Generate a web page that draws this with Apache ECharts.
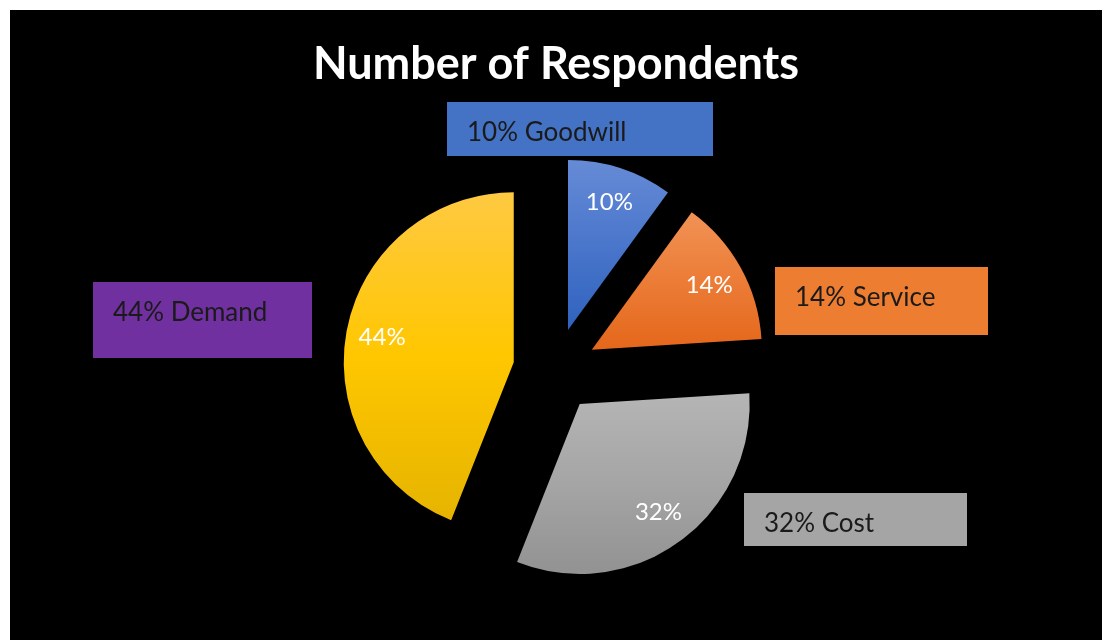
<!DOCTYPE html>
<html>
<head>
<meta charset="utf-8">
<title>Number of Respondents</title>
<script src="https://cdn.jsdelivr.net/npm/echarts@6/dist/echarts.min.js"></script>
<style>
  html, body { margin: 0; padding: 0; background: #ffffff; }
  #chart {
    position: absolute;
    left: 10px;
    top: 10px;
    width: 1092px;
    height: 630px;
    background: #000000;
  }
</style>
</head>
<body>
<div id="chart"></div>
<script>
// Survey answers: share of respondents per reason (percent)
const categories = ['Goodwill', 'Service', 'Cost', 'Demand'];
const shares = [10, 14, 32, 44];

// Slice fills: top / middle / bottom stops of each vertical gradient
const sliceTop = ['#668bd6', '#f19255', '#b5b5b5', '#ffc942'];
const sliceMid = ['#4a76cb', '#ec7c37', '#a5a5a5', '#ffc700'];
const sliceBottom = ['#2f62be', '#e4671b', '#929292', '#e6b400'];
// Callout box fills
const boxColors = ['#4472c4', '#ed7d31', '#a5a5a5', '#7030a0'];

// Callout box placement (top-left corner, width, height) inside the chart area
const boxPlacement = [
  [437, 92, 266, 54],
  [765, 257, 213, 68],
  [734, 483, 223, 53],
  [83, 272, 219, 76]
];

const FONT = 'Lato, "Open Sans", sans-serif';
const CENTER = [545, 360];
const RADIUS = 170;
const EXPLODE = 42;

const chart = echarts.init(document.getElementById('chart'), null, { renderer: 'canvas' });

function gradient(i) {
  return new echarts.graphic.LinearGradient(0, 0, 0, 1, [
    { offset: 0, color: sliceTop[i] },
    { offset: 0.5, color: sliceMid[i] },
    { offset: 1, color: sliceBottom[i] }
  ]);
}

const sliceData = categories.map((name, i) => ({
  name: name,
  value: shares[i],
  selected: true,
  itemStyle: { color: gradient(i) }
}));

const innerLabelData = categories.map((name, i) => ({
  name: name,
  value: shares[i],
  selected: true
}));

const calloutData = categories.map((name, i) => ({
  name: name,
  value: shares[i],
  label: {
    backgroundColor: boxColors[i],
    width: boxPlacement[i][2] - 20,
    height: 30,
    padding: [16, 0, boxPlacement[i][3] - 46, 20]
  }
}));

const option = {
  backgroundColor: 'transparent',
  animation: false,
  title: {
    text: 'Number of Respondents',
    left: 'center',
    top: 27,
    textStyle: {
      color: '#ffffff',
      fontFamily: FONT,
      fontWeight: 'bold',
      fontSize: 45,
      lineHeight: 45
    }
  },
  series: [
    {
      // exploded slices
      type: 'pie',
      center: CENTER,
      radius: RADIUS,
      startAngle: 90,
      clockwise: true,
      selectedMode: 'multiple',
      selectedOffset: EXPLODE,
      silent: true,
      label: { show: false },
      labelLine: { show: false },
      emphasis: { disabled: true },
      select: { itemStyle: { borderWidth: 0 } },
      data: sliceData
    },
    {
      // percentage text inside each slice
      type: 'pie',
      center: CENTER,
      radius: [92, RADIUS],
      startAngle: 90,
      clockwise: true,
      selectedMode: 'multiple',
      selectedOffset: EXPLODE,
      silent: true,
      itemStyle: { color: 'rgba(0,0,0,0)' },
      emphasis: { disabled: true },
      select: { itemStyle: { color: 'rgba(0,0,0,0)', borderWidth: 0 } },
      labelLine: { show: false },
      label: {
        show: true,
        position: 'inside',
        color: '#ffffff',
        fontFamily: FONT,
        fontSize: 24,
        formatter: p => p.value + '%'
      },
      data: innerLabelData
    },
    {
      // callout boxes naming each reason
      type: 'pie',
      center: CENTER,
      radius: RADIUS,
      startAngle: 90,
      clockwise: true,
      silent: true,
      avoidLabelOverlap: false,
      itemStyle: { color: 'rgba(0,0,0,0)' },
      emphasis: { disabled: true },
      labelLine: { show: false },
      label: {
        show: true,
        position: 'outside',
        color: '#1a1a1a',
        fontFamily: FONT,
        fontSize: 26,
        lineHeight: 30,
        align: 'left',
        formatter: p => p.value + '% ' + p.name
      },
      labelLayout: p => ({
        x: boxPlacement[p.dataIndex][0],
        y: boxPlacement[p.dataIndex][1],
        align: 'left',
        verticalAlign: 'top',
        hideOverlap: false,
        moveOverlap: null
      }),
      data: calloutData
    }
  ]
};

chart.setOption(option);
</script>
</body>
</html>
